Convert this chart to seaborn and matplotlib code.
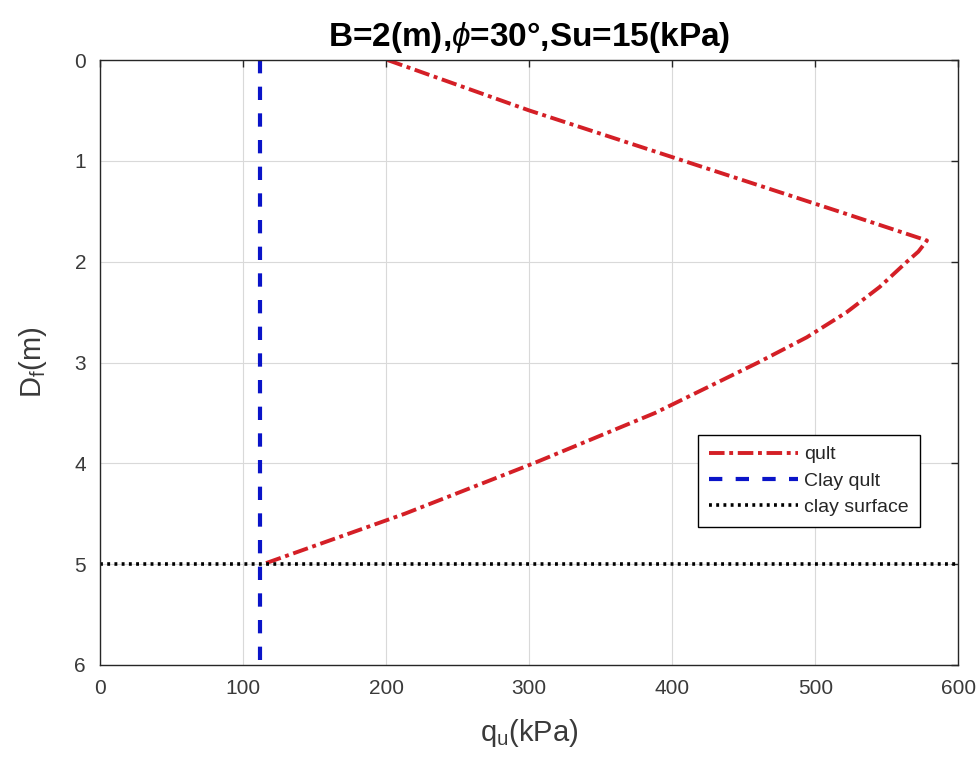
import matplotlib
matplotlib.use("Agg")
import matplotlib.pyplot as plt
import seaborn as sns
import pandas as pd

# Data
depth_qult = [0.0, 0.5, 1.0, 1.5, 1.79,
              1.9, 2.0, 2.25, 2.5, 2.75, 3.0, 3.5, 4.0, 4.5, 5.0]
qult = [201, 300, 408, 516, 578,
        572, 564, 545, 522, 494, 460, 388, 303, 213, 114]
clay_qult_value = 112
clay_surface_depth = 5
x_ticks = [0, 100, 200, 300, 400, 500, 600]
y_ticks = [0, 1, 2, 3, 4, 5, 6]

sns.set_theme(style="white")
fam = ['Liberation Sans', 'DejaVu Sans']
plt.rcParams['font.family'] = fam
plt.rcParams['mathtext.fontset'] = 'custom'
plt.rcParams['mathtext.rm'] = 'Liberation Sans'
plt.rcParams['mathtext.it'] = 'Liberation Sans:italic'

fig = plt.figure(figsize=(9.8, 7.6), dpi=100)
ax = fig.add_axes([0.102, 0.125, 0.876, 0.796])

df_q = pd.DataFrame({"qu": qult, "Df": depth_qult})
sns.lineplot(data=df_q, x="qu", y="Df", sort=False, estimator=None, ax=ax,
             color="#d41f26", linewidth=2.8, linestyle=(0, (4, 1.2, 1, 1.2)),
             label="qult")

df_c = pd.DataFrame({"qu": [clay_qult_value, clay_qult_value], "Df": [0, 6]})
sns.lineplot(data=df_c, x="qu", y="Df", sort=False, estimator=None, ax=ax,
             color="#0a14c8", linewidth=3.0, linestyle=(0, (3.2, 3.2)),
             label="Clay qult")

df_s = pd.DataFrame({"qu": [0, 600], "Df": [clay_surface_depth, clay_surface_depth]})
sns.lineplot(data=df_s, x="qu", y="Df", sort=False, estimator=None, ax=ax,
             color="black", linewidth=2.6, linestyle=(0, (0.8, 1.2)),
             label="clay surface")

ax.set_xlim(0, 600)
ax.set_ylim(6, 0)
ax.set_xticks(x_ticks)
ax.set_yticks(y_ticks)
ax.grid(True, color="#d9d9d9", linewidth=0.8)
ax.set_axisbelow(True)
for s in ax.spines.values():
    s.set_color("#262626")
    s.set_linewidth(1.0)
ax.tick_params(direction="in", length=5, width=1, top=True, right=True,
               labelsize=15, colors="#262626", labelcolor="#3a3a3a")
ax.tick_params(axis="x", pad=10)
ax.tick_params(axis="y", pad=10)

ax.set_title(r"B=2(m),$\phi$=30°,Su=15(kPa)", fontsize=24, fontweight="bold",
             color="black", pad=10)
ax.set_xlabel(r"q$_\mathregular{u}$(kPa)", fontsize=21, color="#3a3a3a", labelpad=14)
ax.set_ylabel(r"D$_\mathregular{f}$(m)", fontsize=21, color="#3a3a3a", labelpad=18)

leg = ax.legend(loc="upper left", bbox_to_anchor=(0.697, 0.38), fontsize=14,
                frameon=True, fancybox=False, edgecolor="black", framealpha=1,
                handlelength=4.6, handletextpad=0.3, borderpad=0.55,
                labelspacing=0.45, borderaxespad=0)
leg.get_frame().set_linewidth(1.0)

fig.savefig("out.png", dpi=100)
